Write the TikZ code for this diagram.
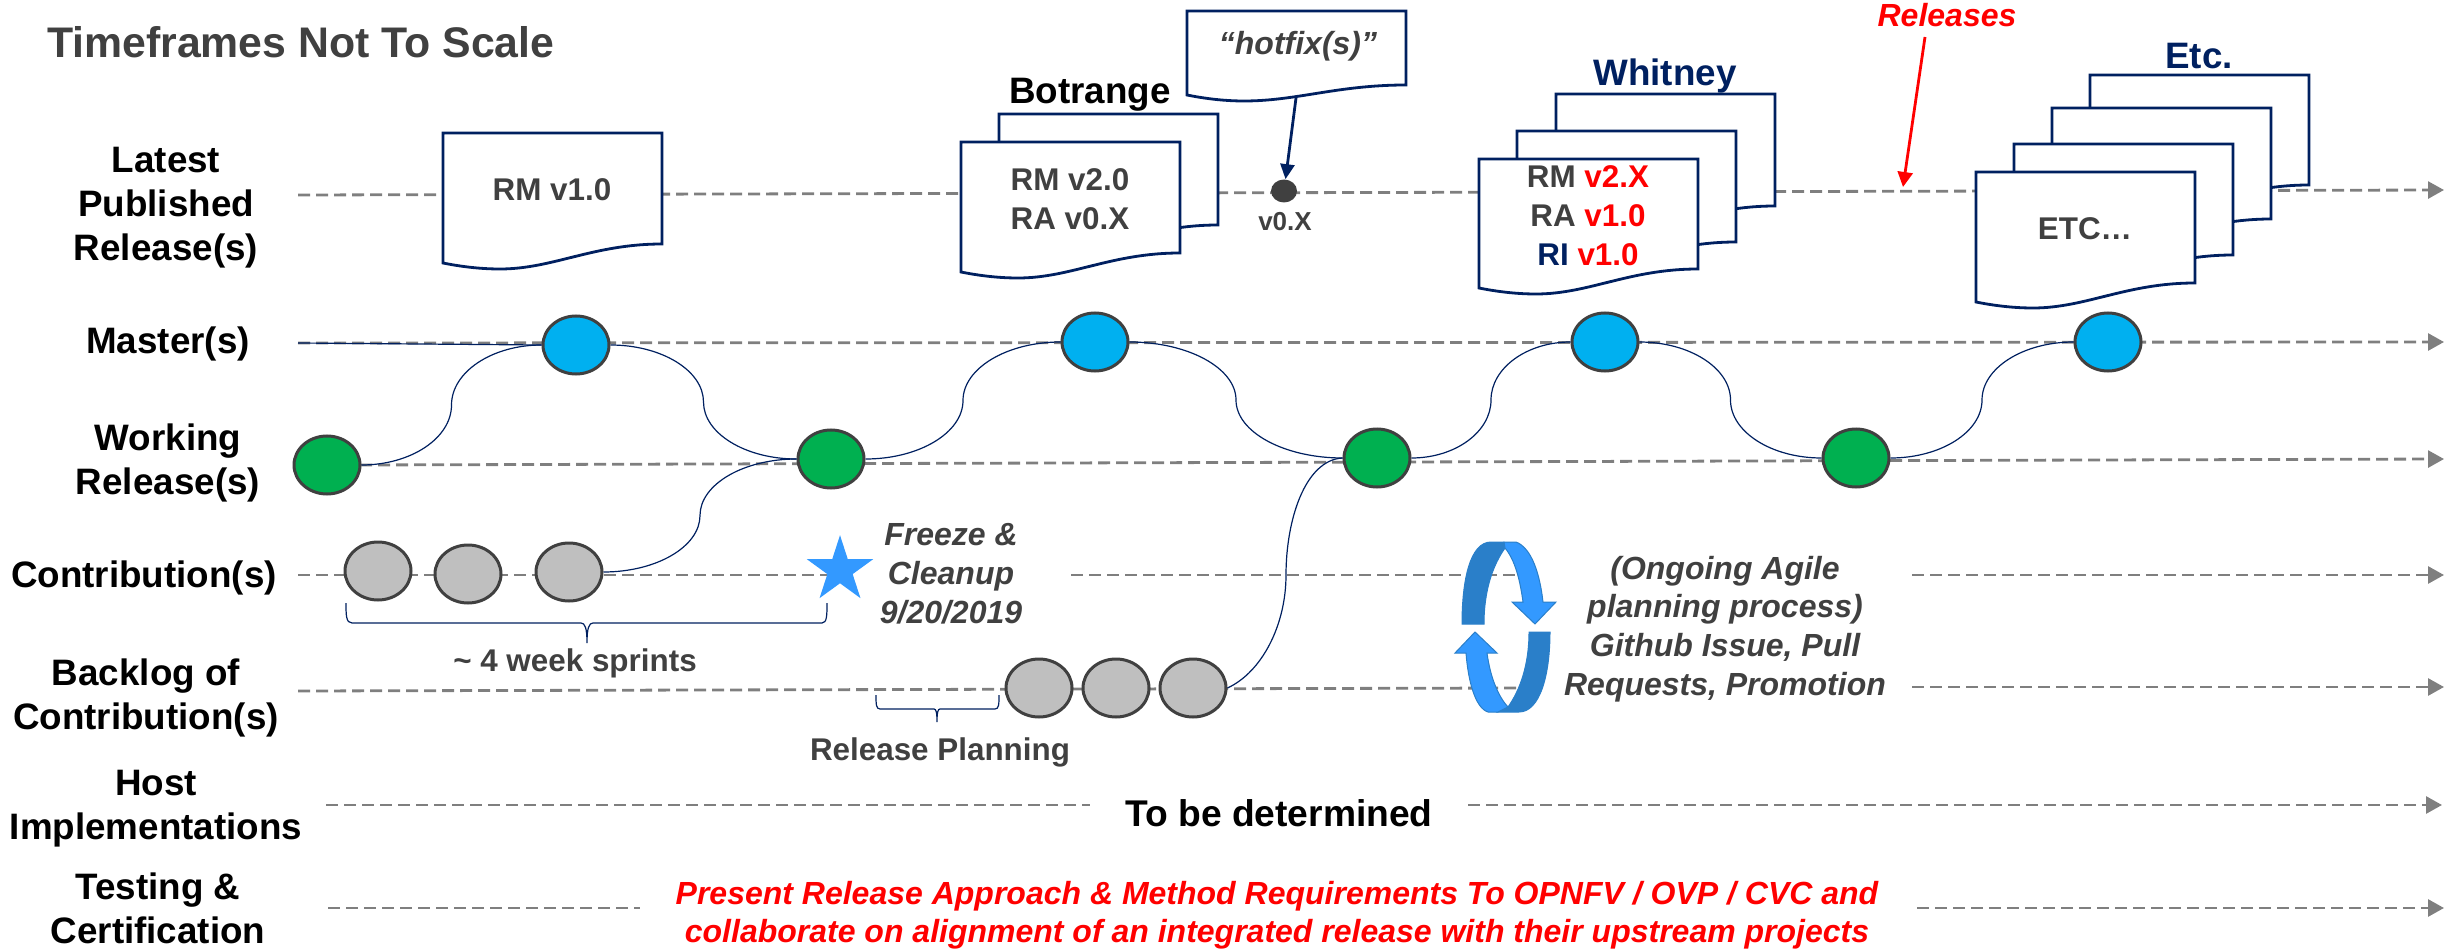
\documentclass[tikz,border=0pt]{standalone}
\usepackage{fontspec}
\setmainfont{Liberation Sans}
\usetikzlibrary{arrows.meta,calc,positioning,shapes.geometric}

\definecolor{navyline}{HTML}{002060}
\definecolor{darktext}{HTML}{404040}
\definecolor{dashgray}{HTML}{7F7F7F}
\definecolor{masterblue}{HTML}{00B0F0}
\definecolor{workgreen}{HTML}{00B050}
\definecolor{sprintgray}{HTML}{BFBFBF}
\definecolor{cycledark}{HTML}{2A7FC9}
\definecolor{cyclelight}{HTML}{3399FF}

\newcommand{\docpage}[4]{
\begin{scope}[shift={(#1,#2)}]
\filldraw[docline] (0,0) -- (219,0) -- (219,#3) .. controls (150,#3) and (110,#3+#4) .. (57,#3+#4) .. controls (35,#3+#4) and (15,#3+#4-3) .. (0,#3+#4-6) -- cycle;
\end{scope}
}
\newcommand{\flowcurve}[2]{
\coordinate (flowmid) at ($(#1)!.5!(#2)$);
\draw[flow] (#1) .. controls ($(#1)!.55!(#1 -| flowmid)$) and ($(flowmid)!.55!(flowmid |- #1)$) .. (flowmid) .. controls ($(flowmid)!.55!(flowmid |- #2)$) and ($(#2)!.55!(#2 -| flowmid)$) .. (#2);
}

\begin{document}
\begin{tikzpicture}[x=0.5pt,y=-0.5pt,node distance=38.5pt,
docline/.style={fill=white,draw=navyline,line width=1.4pt,line join=miter},
flow/.style={draw=navyline,line width=0.6pt},
timeline/.style={draw=dashgray,line width=1.4pt,dash pattern=on 6pt off 3pt},
timearrow/.style={timeline,-{Triangle[length=8pt,width=8.5pt,fill=dashgray]}},
commit/.style={shape=ellipse,draw=darktext,line width=1.5pt,minimum width=33pt,minimum height=29pt,inner sep=0pt}]
\tikzstyle{rowlabel}=[align=center,text=black,font=\bfseries\fontsize{18.4}{22}\selectfont]
\tikzstyle{doctext}=[align=center,text=darktext,font=\bfseries\fontsize{15.7}{19.5}\selectfont]
\tikzstyle{notetext}=[doctext,font=\bfseries\itshape\fontsize{16}{19.4}\selectfont]
\tikzstyle{redtext}=[notetext,text=red,font=\bfseries\itshape\fontsize{16}{19}\selectfont]
\tikzstyle{mastercommit}=[commit,fill=masterblue]
\tikzstyle{workcommit}=[commit,fill=workgreen]
\tikzstyle{sprintcommit}=[commit,fill=sprintgray]

\useasboundingbox (0,0) rectangle (2458,952);

\coordinate (L1s) at (298,195);
\coordinate (L1e) at (2444,190);
\coordinate (L2s) at (298,343);
\coordinate (L2e) at (2444,342);
\coordinate (L3s) at (360,465);
\coordinate (L3e) at (2444,459);
\coordinate (L4a) at (298,575);
\coordinate (L4b) at (835,575);
\coordinate (L4c) at (1071,575);
\coordinate (L4d) at (1519,575);
\coordinate (L4f) at (1912,575);
\coordinate (L4e) at (2444,575);
\coordinate (L5a) at (298,691);
\coordinate (L5d) at (1519,688);
\coordinate (L5f) at (1912,687);
\coordinate (L5e) at (2444,687);
\coordinate (L6a) at (326,805);
\coordinate (L6d) at (1090,805);
\coordinate (L6f) at (1468,805);
\coordinate (L6e) at (2442,805);
\coordinate (L7a) at (328,908);
\coordinate (L7d) at (640,908);
\coordinate (L7f) at (1917,908);
\coordinate (L7e) at (2444,908);

\draw[timearrow] (L1s) -- (L1e);
\draw[timearrow] (L2s) -- (L2e);
\draw[timearrow] (L3s) -- (L3e);
\draw[timeline] (L4a) -- (L4b);
\draw[timeline] (L4c) -- (L4d);
\draw[timearrow] (L4f) -- (L4e);
\draw[timeline] (L5a) -- (L5d);
\draw[timearrow] (L5f) -- (L5e);
\draw[timeline] (L6a) -- (L6d);
\draw[timearrow] (L6f) -- (L6e);
\draw[timeline] (L7a) -- (L7d);
\draw[timearrow] (L7f) -- (L7e);

\node[anchor=west,text=darktext,font=\bfseries\fontsize{21.4}{25}\selectfont] (title) at (40,42) {Timeframes Not To Scale};

\node[rowlabel] (latest) at (166,208) {Latest\\Published\\Release(s)};
\node[rowlabel] (masters) at (168,344) {Master(s)};
\node[rowlabel] (working) at (168,463) {Working\\Release(s)};
\node[rowlabel] (contrib) at (144,578) {Contribution(s)};
\node[rowlabel] (backlog) at (146,698) {Backlog of\\Contribution(s)};
\node[rowlabel] (host) at (156,809) {Host\\Implementations};
\node[rowlabel] (testing) at (158,908) {Testing \&\\Certification};

\docpage{443}{133}{111}{25}
\node[doctext] (relone) at (552,190) {RM v1.0};

\docpage{999}{114}{111}{25}
\docpage{961}{142}{111}{25}
\node[rowlabel] (botrange) at (1090,95) {Botrange};
\node[doctext] (reltwo) at (1070,199) {RM v2.0\\RA v0.X};

\docpage{1187}{11}{74}{16}
\node[notetext] (hotfix) at (1298,46) {“hotfix(s)”};
\coordinate (hotfixfoot) at (1296,98);
\node[shape=ellipse,fill=darktext,minimum width=13pt,minimum height=11.5pt,inner sep=0pt] (patch) at (1284,191) {};
\node[doctext,font=\bfseries\fontsize{13}{15}\selectfont] (patchtxt) at (1285,222) {v0.X};
\draw[navyline,line width=1.4pt,-{Triangle[length=7.5pt,width=7pt]}] (hotfixfoot) -- (patch);

\docpage{1556}{94}{112}{25}
\docpage{1517}{131}{111}{25}
\docpage{1479}{159}{110}{25}
\node[rowlabel,text=navyline] (whitney) at (1665,76) {Whitney};
\node[doctext] (relthree) at (1588,216) {RM \textcolor{red}{v2.X}\\RA \textcolor{red}{v1.0}\\\textcolor{navyline}{RI} \textcolor{red}{v1.0}};

\docpage{2090}{75}{110}{25}
\docpage{2052}{108}{111}{25}
\docpage{2014}{144}{111}{25}
\docpage{1976}{172}{111}{25}
\node[rowlabel,text=navyline] (etc) at (2199,56) {Etc.};
\node[doctext] (relfour) at (2085,229) {ETC…};

\node[redtext] (releases) at (1947,15) {Releases};
\coordinate (relfoot) at (1925,37);
\coordinate (reltip) at (1903,187);
\draw[red,line width=1.4pt,-{Triangle[length=7.5pt,width=7.5pt]}] (relfoot) -- (reltip);

\node[mastercommit] (B1) at (576,345) {};
\node[mastercommit] (B2) at (1095,342) {};
\node[mastercommit] (B3) at (1605,342) {};
\node[mastercommit] (B4) at (2108,342) {};
\node[workcommit] (G1) at (327,465) {};
\node[workcommit] (G2) at (831,459) {};
\node[workcommit] (G3) at (1377,458) {};
\node[workcommit] (G4) at (1856,458) {};
\node[sprintcommit] (S1) at (378,571) {};
\node[sprintcommit] (S2) at (468,574) {};
\node[sprintcommit] (S3) at (569,572) {};
\node[sprintcommit] (K1) at (1039,688) {};
\node[sprintcommit] (K2) [right of=K1] {};
\node[sprintcommit] (K3) [right of=K2] {};

\node[shape=star,star points=5,star point ratio=2.618,fill=cyclelight,minimum size=34.8pt,inner sep=0pt] (freeze) at (840,570) {};
\node[notetext] (freezetxt) at (951,574) {Freeze \&\\Cleanup\\9/20/2019};

\draw[flow] (L2s) -- (B1.west);
\flowcurve{G1.east}{B1.west}
\flowcurve{B1.east}{G2.west}
\flowcurve{S3.east}{G2.west}
\flowcurve{G2.east}{B2.west}
\flowcurve{B2.east}{G3.west}
\coordinate (backlogmid) at (1286,575);
\draw[flow] (K3.east) .. controls (1262,672) and (1286,625) .. (backlogmid) .. controls (1286,520) and (1305,460) .. (G3.west);
\flowcurve{G3.east}{B3.west}
\flowcurve{B3.east}{G4.west}
\flowcurve{G4.east}{B4.west}

\draw[flow] (346,603) .. controls (346,615) and (346,623) .. (352,623) -- (581,623) .. controls (585,623) and (587,628) .. (587,643) .. controls (587,628) and (589,623) .. (593,623) -- (822,623) .. controls (827,623) and (827,615) .. (827,603);
\node[doctext] (sprints) at (575,663) {\textasciitilde{} 4 week sprints};

\draw[flow] (876,695) .. controls (876,704) and (876,709) .. (880,709) -- (934,709) .. controls (936,709) and (937,712) .. (937,722) .. controls (937,712) and (938,709) .. (940,709) -- (995,709) .. controls (999,709) and (999,704) .. (999,695);
\node[doctext] (planning) at (940,752) {Release Planning};

\filldraw[fill=cycledark,draw=cycledark,line width=0.5pt] (1462,624) .. controls (1462,580) and (1470,542) .. (1491,542) -- (1504,542) -- (1505,548) .. controls (1493,565) and (1484,590) .. (1484,624) -- cycle;
\filldraw[fill=cyclelight,draw=cycledark,line width=0.5pt] (1504,542) -- (1516,542) .. controls (1532,548) and (1540,575) .. (1543,602) -- (1556,602) -- (1535,624) -- (1512,602) -- (1523,602) .. controls (1520,580) and (1515,560) .. (1505,548) -- cycle;
\filldraw[fill=cycledark,draw=cycledark,line width=0.5pt] (1550,632) -- (1529,632) .. controls (1529,665) and (1520,690) .. (1508,707) -- (1498,712) -- (1519,712) .. controls (1540,712) and (1550,675) .. (1550,632) -- cycle;
\filldraw[fill=cyclelight,draw=cycledark,line width=0.5pt] (1475,632) -- (1497,653) -- (1487,653) .. controls (1490,675) and (1497,695) .. (1508,707) -- (1498,712) -- (1488,712) .. controls (1475,708) and (1468,680) .. (1466,653) -- (1455,653) -- cycle;
\node[notetext] (agile) at (1725,629) {(Ongoing Agile\\planning process)\\Github Issue, Pull\\Requests, Promotion};

\node[rowlabel,font=\bfseries\fontsize{18.6}{23}\selectfont] (tbd) at (1279,813) {To be determined};
\node[redtext] (approach) at (1277,915) {Present Release Approach \& Method Requirements To OPNFV / OVP / CVC and\\collaborate on alignment of an integrated release with their upstream projects};
\end{tikzpicture}
\end{document}
